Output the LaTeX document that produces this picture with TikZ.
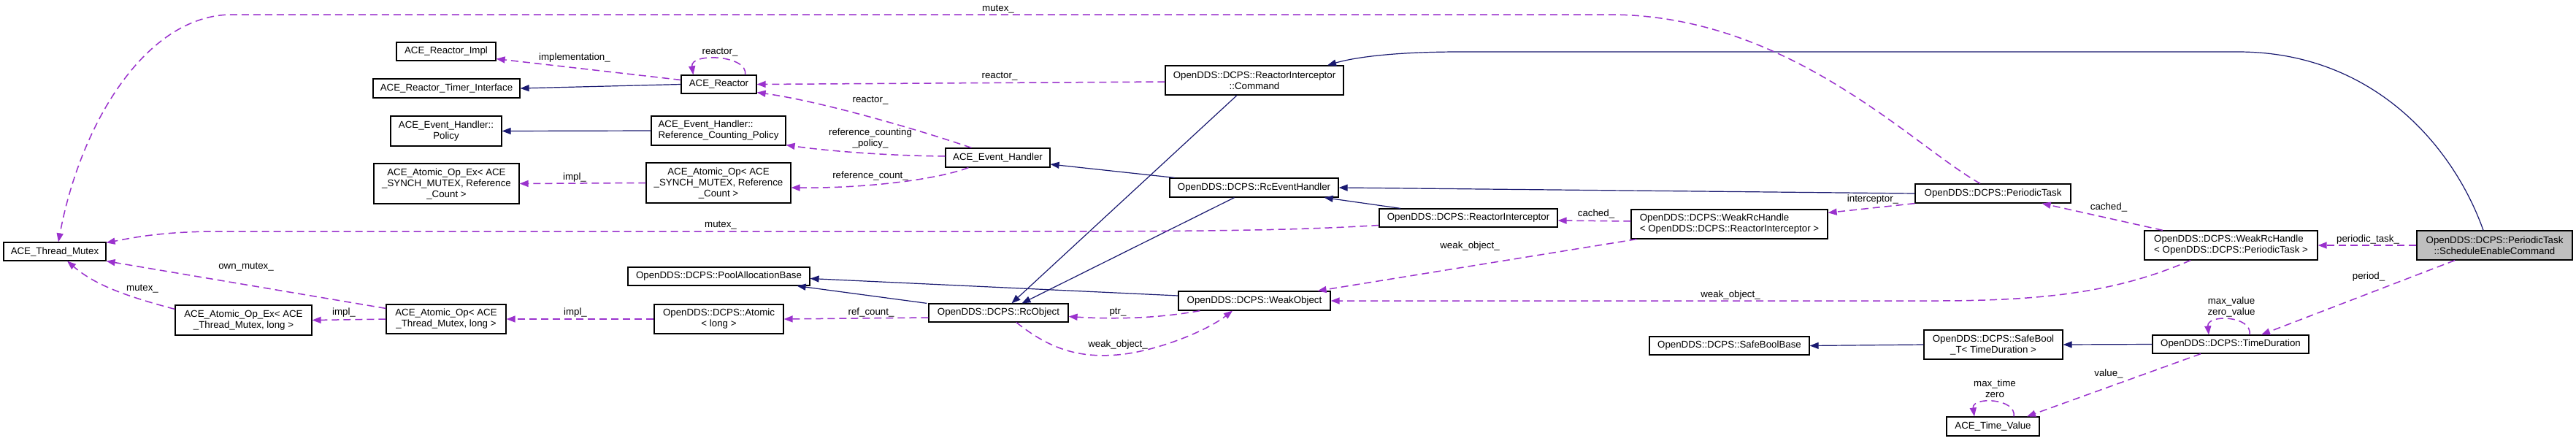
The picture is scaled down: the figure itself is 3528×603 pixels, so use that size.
\documentclass[tikz,border=0pt]{standalone}
\usepackage{fontspec}
\setmainfont{Liberation Sans}
\usetikzlibrary{arrows.meta}
\definecolor{inhblue}{HTML}{191970}
\definecolor{usepurple}{HTML}{9A32CD}
\tikzset{
    cls/.style={draw=black,line width=1.2pt,fill=white,inner sep=0pt,minimum height=25pt,align=center,font=\fontsize{13.3}{15}\selectfont},
    focus/.style={cls,fill=gray!50},
    role/.style={inner sep=0pt,text height=9.5pt,text depth=3pt,font=\fontsize{13.3}{15}\selectfont},
    role2/.style={inner sep=0pt,align=center,font=\fontsize{13.3}{15}\selectfont},
    inherit/.style={-{Triangle[length=12pt,width=9pt]},line width=1.2pt,draw=inhblue},
    member/.style={-{Triangle[length=12pt,width=9pt]},line width=1.5pt,draw=usepurple,dash pattern=on 10pt off 6pt}
}

\begin{document}
\begin{tikzpicture}[x=1pt,y=-1pt]

    \fill[white] (0,0) rectangle (3528,603);
    \path[use as bounding box] (0,0) rectangle (3528,603);

    \node[cls,minimum width=136pt] (impl) at (611,70.5) {ACE\_Reactor\_Impl};
    \node[cls,minimum width=201pt,minimum height=26pt] (timer) at (611.5,121) {ACE\_Reactor\_Timer\_Interface};
    \node[cls,minimum width=152pt,minimum height=41pt] (policy) at (611,179.5) {ACE\_Event\_Handler::\\Policy};
    \node[cls,minimum width=199pt,minimum height=55pt] (opexsynch) at (611.5,251.5) {ACE\_Atomic\_Op\_Ex< ACE\\\_SYNCH\_MUTEX, Reference\\\_Count >};
    \node[cls,minimum width=103pt] (reactor) at (984.5,115.5) {ACE\_Reactor};
    \node[cls,minimum width=184pt,minimum height=40pt,align=left] (rcpolicy) at (984,179) {ACE\_Event\_Handler::\\Reference\_Counting\_Policy};
    \node[cls,minimum width=198pt,minimum height=55pt] (opsynch) at (984,250.5) {ACE\_Atomic\_Op< ACE\\\_SYNCH\_MUTEX, Reference\\\_Count >};
    \node[cls,minimum width=143pt,minimum height=26pt] (evh) at (1366.5,216) {ACE\_Event\_Handler};
    \node[cls,minimum width=244pt,minimum height=40pt] (command) at (1718,110) {OpenDDS::DCPS::ReactorInterceptor\\::Command};
    \node[cls,minimum width=231pt,minimum height=26pt] (rceh) at (1717.5,257) {OpenDDS::DCPS::RcEventHandler};
    \node[cls,minimum width=244pt] (interceptor) at (2011,298.5) {OpenDDS::DCPS::ReactorInterceptor};
    \node[cls,minimum width=269pt,minimum height=40pt,align=left] (wrhri) at (2368.5,307) {OpenDDS::DCPS::WeakRcHandle\\< OpenDDS::DCPS::ReactorInterceptor >};
    \node[cls,minimum width=213pt,minimum height=26pt] (ptask) at (2729.5,265) {OpenDDS::DCPS::PeriodicTask};
    \node[cls,minimum width=237pt,minimum height=40pt,align=left] (wrhpt) at (3055.5,336) {OpenDDS::DCPS::WeakRcHandle\\< OpenDDS::DCPS::PeriodicTask >};
    \node[focus,minimum width=213pt,minimum height=40pt] (sec) at (3416.5,336) {OpenDDS::DCPS::PeriodicTask\\::ScheduleEnableCommand};
    \node[cls,minimum width=140pt] (mutex) at (75,344.5) {ACE\_Thread\_Mutex};
    \node[cls,minimum width=187pt,minimum height=41pt] (opexmtx) at (333.5,438.5) {ACE\_Atomic\_Op\_Ex< ACE\\\_Thread\_Mutex, long >};
    \node[cls,minimum width=164pt,minimum height=40pt] (opmtx) at (611,437) {ACE\_Atomic\_Op< ACE\\\_Thread\_Mutex, long >};
    \node[cls,minimum width=249pt] (pool) at (984.5,378.5) {OpenDDS::DCPS::PoolAllocationBase};
    \node[cls,minimum width=177pt,minimum height=40pt] (atomic) at (984.5,437) {OpenDDS::DCPS::Atomic\\< long >};
    \node[cls,minimum width=191pt] (rcobj) at (1367.5,428.5) {OpenDDS::DCPS::RcObject};
    \node[cls,minimum width=208pt,minimum height=26pt] (weak) at (1718,412) {OpenDDS::DCPS::WeakObject};
    \node[cls,minimum width=219pt] (sbb) at (2368.5,473.5) {OpenDDS::DCPS::SafeBoolBase};
    \node[cls,minimum width=190pt,minimum height=40pt] (sbt) at (2730,472) {OpenDDS::DCPS::SafeBool\\\_T< TimeDuration >};
    \node[cls,minimum width=214pt] (duration) at (3055,471.5) {OpenDDS::DCPS::TimeDuration};
    \node[cls,minimum width=127pt,minimum height=26pt] (timevalue) at (2729.5,584) {ACE\_Time\_Value};

    \draw[inherit] (reactor.west) -- (timer.east);
    \draw[inherit] (rcpolicy.west) -- (policy.east);
    \draw[inherit] ([xshift=-24pt]command.south) -- ([xshift=18pt]rcobj.north);
    \draw[inherit] ([xshift=-27pt]rceh.south) -- ([xshift=32pt]rcobj.north);
    \draw[inherit] ([xshift=-109pt]rceh.north) -- ([yshift=-9pt]evh.east);
    \draw[inherit] ([xshift=-93pt]interceptor.north) -- ([xshift=-20pt]rceh.south east);
    \draw[inherit] (ptask.west) -- (rceh.east);
    \draw[inherit] ([xshift=-15.5pt]sec.north) .. controls (3360,200) and (3250,71) .. (3065,71) -- (2000,71) .. controls (1900,71) and (1850,80) .. ([xshift=100pt]command.north);
    \draw[inherit] ([yshift=7pt]weak.west) -- ([yshift=-3pt]pool.east);
    \draw[inherit] ([xshift=-2pt]rcobj.north west) -- ([xshift=-18pt]pool.south east);
    \draw[inherit] (sbt.west) -- (sbb.east);
    \draw[inherit] (duration.west) -- (sbt.east);

    \draw[member] ([yshift=6pt]reactor.west) -- ([yshift=3pt]impl.south east);
    \draw[member] ([xshift=-16pt]reactor.north east) .. controls (1025,75) and (945,72) .. ([xshift=17pt]reactor.north west);
    \draw[member] ([yshift=-2pt]command.west) -- (reactor.east);
    \draw[member] ([xshift=36pt]evh.north west) .. controls (1250,175) and (1120,138) .. ([yshift=2pt]reactor.south east);
    \draw[member] ([yshift=2pt]evh.west) .. controls (1200,213) and (1120,205) .. ([yshift=1pt]rcpolicy.south east);
    \draw[member] ([xshift=32pt]evh.south west) .. controls (1280,247) and (1180,258) .. ([yshift=-6.5pt]opsynch.east);
    \draw[member] (opsynch.west) -- (opexsynch.east);
    \draw[member] ([xshift=-17.5pt]ptask.north) .. controls (2620,200) and (2450,20) .. (2204,20) -- (318,20) .. controls (200,20) and (110,170) .. ([xshift=5pt]mutex.north);
    \draw[member] ([yshift=-10pt]interceptor.west) .. controls (1750,317) and (1600,317) .. (1300,317) -- (300,317) .. controls (220,317) and (180,326) .. ([yshift=-1pt]mutex.north east);
    \draw[member] ([yshift=-6pt]opexmtx.north west) .. controls (170,405) and (130,390) .. ([xshift=17pt]mutex.south);
    \draw[member] ([yshift=-6pt]opmtx.north west) -- (mutex.south east);
    \draw[member] (opmtx.west) -- (opexmtx.east);
    \draw[member] (atomic.west) -- (opmtx.east);
    \draw[member] ([yshift=-6.5pt]rcobj.west) -- (atomic.east);
    \draw[member] ([xshift=30pt]weak.south west) .. controls (1580,437) and (1520,437) .. ([yshift=-5pt]rcobj.east);
    \draw[member] ([xshift=24.5pt]rcobj.south) .. controls (1440,480) and (1480,490) .. (1530,486) .. controls (1580,482) and (1650,455) .. ([xshift=-30pt]weak.south);
    \draw[member] ([xshift=8pt]wrhri.south west) -- ([xshift=-18pt]weak.north east);
    \draw[member] ([xshift=-55.5pt]wrhpt.south) .. controls (2900,400) and (2800,412) .. (2650,412) -- (weak.east);
    \draw[member] ([yshift=4pt]wrhri.west) -- ([yshift=-3.5pt]interceptor.east);
    \draw[member] (ptask.south west) -- ([yshift=-5pt]wrhri.north east);
    \draw[member] ([xshift=-93.5pt]wrhpt.north) -- ([xshift=-40pt]ptask.south east);
    \draw[member] (sec.west) -- (wrhpt.east);
    \draw[member] ([xshift=-54.5pt]sec.south) -- ([xshift=42pt]duration.north);
    \draw[member] ([xshift=26pt]duration.north) .. controls (3085,432) and (3022,430) .. ([xshift=-30pt]duration.north);
    \draw[member] ([xshift=-41pt]duration.south) -- ([xshift=46.5pt]timevalue.north);
    \draw[member] ([xshift=28.5pt]timevalue.north) .. controls (2762,545) and (2700,543) .. ([xshift=-25.5pt]timevalue.north);

    \node[role] (limpl) at (787,79) {implementation\_};
    \node[role] (lself) at (986,71) {reactor\_};
    \node[role] (lcmdreactor) at (1369,104) {reactor\_};
    \node[role] (lehreactor) at (1192,137) {reactor\_};
    \node[role2] (lrcpolicy) at (1192,190) {reference\_counting\\\_policy\_};
    \node[role] (lrefcount) at (1192,241) {reference\_count\_};
    \node[role] (limplsynch) at (787,243) {impl\_};
    \node[role] (lmutextop) at (1367,12) {mutex\_};
    \node[role] (lmutexri) at (987,308) {mutex\_};
    \node[role] (lmutexex) at (195,395) {mutex\_};
    \node[role] (lownmutex) at (337,365) {own\_mutex\_};
    \node[role] (limplex) at (471,428) {impl\_};
    \node[role] (limplatomic) at (788,428) {impl\_};
    \node[role] (lrefcnt) at (1193,428) {ref\_count\_};
    \node[role] (lptr) at (1531,427) {ptr\_};
    \node[role] (lweakself) at (1531,472) {weak\_object\_};
    \node[role] (lweakri) at (2013,337) {weak\_object\_};
    \node[role] (lweakpt) at (2370,404) {weak\_object\_};
    \node[role] (lcachedri) at (2186,293) {cached\_};
    \node[role] (linterceptor) at (2565,273) {interceptor\_};
    \node[role] (lcachedpt) at (2888,284) {cached\_};
    \node[role] (lperiodic) at (3243,328) {periodic\_task\_};
    \node[role] (lperiod) at (3244,379) {period\_};
    \node[role2] (lmaxvalue) at (3056,420) {max\_value\\zero\_value};
    \node[role] (lvalue) at (2888,512) {value\_};
    \node[role2] (lmaxtime) at (2732,532) {max\_time\\zero};

\end{tikzpicture}
\end{document}
